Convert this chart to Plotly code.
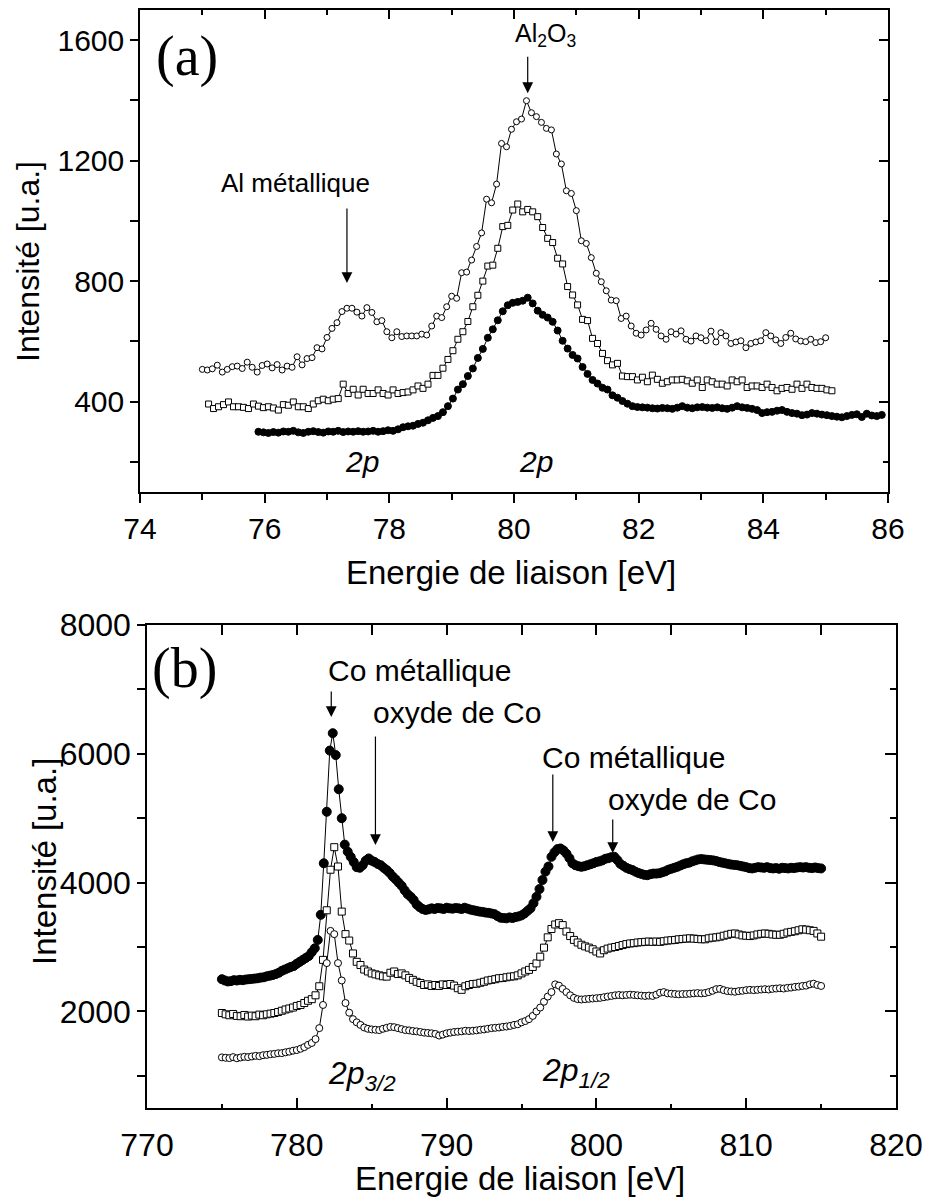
import numpy as np
import plotly.graph_objects as go

# ---------------- (a) Al 2p ----------------
a_step = 0.08
a_circ_x0 = 75.0
a_circ_y = [507, 505, 509, 521, 498, 507, 516, 518, 510, 531,
            514, 498, 520, 525, 512, 523, 505, 518, 514, 549,
            522, 543, 546, 579, 575, 613, 643, 662, 699, 710,
            710, 697, 684, 712, 696, 665, 669, 632, 612, 632,
            616, 618, 618, 618, 624, 621, 651, 684, 679, 715,
            750, 743, 828, 830, 870, 915, 960, 1072, 1060, 1122,
            1257, 1246, 1304, 1329, 1338, 1399, 1359, 1346, 1327, 1307,
            1302, 1222, 1189, 1100, 1091, 1034, 934, 925, 878, 826,
            798, 768, 737, 735, 676, 684, 651, 627, 621, 638,
            660, 640, 618, 607, 632, 624, 635, 607, 601, 618,
            612, 602, 634, 598, 629, 618, 593, 598, 602, 579,
            593, 598, 602, 629, 618, 605, 593, 613, 627, 608,
            601, 599, 607, 596, 599, 612]

a_sq_x0 = 75.1
a_sq_y = [392, 377, 383, 390, 399, 383, 383, 381, 377, 392,
          385, 380, 383, 379, 372, 390, 388, 399, 383, 383,
          377, 392, 403, 408, 403, 408, 410, 458, 427, 441,
          422, 441, 427, 427, 439, 427, 422, 439, 427, 430,
          432, 439, 452, 444, 458, 487, 487, 511, 540, 569,
          607, 632, 666, 715, 753, 800, 850, 853, 909, 981,
          985, 1036, 1056, 1030, 1038, 1030, 1014, 978, 942, 928,
          876, 857, 782, 754, 721, 673, 669, 610, 593, 560,
          536, 522, 527, 485, 483, 483, 472, 481, 466, 488,
          474, 461, 466, 472, 472, 474, 469, 461, 472, 447,
          472, 466, 458, 458, 452, 472, 466, 472, 447, 452,
          452, 447, 458, 447, 436, 444, 447, 441, 458, 444,
          458, 447, 444, 444, 439, 436]

a_dot_x0 = 75.9
a_dot_y = [300, 298, 296, 299, 297, 301, 300, 303, 298, 296,
           300, 302, 299, 297, 301, 300, 303, 299, 301, 300,
           302, 300, 301, 303, 300, 302, 305, 303,
           308, 315, 318, 320, 326, 330, 338, 346, 352, 365,
           385, 410, 440, 458, 485, 510, 545, 575, 612, 640,
           670, 700, 720, 728, 731, 735, 745, 726, 702, 688,
           679, 665, 636, 602, 576, 555, 543, 515, 492, 472,
           460, 446, 440, 421, 413, 402, 393, 385, 382, 381,
           380, 378, 377, 379, 378, 376, 380, 385, 380, 378,
           381, 382, 380, 379, 381, 378, 376, 380, 385, 381,
           379, 376, 372, 362, 365, 366, 370, 372, 366, 362,
           360, 355, 357, 362, 360, 357, 355, 352, 350, 348,
           352, 356, 358, 349, 360, 354, 352, 356]

# ---------------- (b) Co 2p ----------------
b_dot_x0, b_dot_step = 775.0, 0.2
b_dot_y = [2500, 2480, 2465, 2470, 2485, 2480, 2490, 2485, 2495, 2500,
           2505, 2510, 2515, 2525, 2530, 2545, 2555, 2565, 2580, 2600,
           2630, 2650, 2670, 2690, 2705, 2740, 2770, 2800, 2830, 2860,
           2920, 2980, 3110, 3500, 4300, 5100, 6050, 6320, 5980, 5450,
           5000, 4590, 4480, 4400, 4320, 4240, 4230, 4270, 4340, 4375,
           4340, 4320, 4290, 4270, 4230, 4195, 4150, 4095, 4050, 4000,
           3950, 3880, 3820, 3780, 3730, 3660, 3620, 3590, 3575, 3585,
           3600, 3590, 3605, 3600, 3590, 3610, 3600, 3595, 3605, 3600,
           3590, 3610, 3595, 3580, 3570, 3560, 3550, 3545, 3535, 3530,
           3520, 3510, 3480, 3455, 3450, 3445, 3460, 3450, 3465, 3475,
           3490, 3520, 3560, 3600, 3680, 3780, 3900, 4040, 4170, 4250,
           4400, 4470, 4520, 4530, 4500, 4450, 4380, 4300, 4270, 4255,
           4245, 4255, 4270, 4285, 4300, 4320, 4330, 4345, 4370, 4380,
           4395, 4400, 4350, 4290, 4260, 4230, 4210, 4195, 4170, 4150,
           4135, 4120, 4115, 4130, 4140, 4140, 4145, 4160, 4175, 4200,
           4215, 4230, 4245, 4265, 4285, 4300, 4310, 4330, 4345, 4360,
           4365, 4360, 4355, 4350, 4345, 4335, 4320, 4310, 4300, 4290,
           4280, 4275, 4270, 4260, 4250, 4240, 4225, 4220, 4230, 4240,
           4235, 4230, 4240, 4225, 4220, 4225, 4215, 4230, 4225, 4220,
           4230, 4225, 4235, 4240, 4235, 4240, 4230, 4225, 4235, 4225,
           4220]

b_sq_x0, b_sq_step = 775.0, 0.25
b_sq_y = [1975, 1955, 1940, 1960, 1930, 1925, 1945, 1920, 1935, 1925,
          1950, 1940, 1955, 1965, 1975, 1990, 2010, 2030, 2045, 2060,
          2085, 2100, 2130, 2165, 2190, 2250, 2390, 2800, 3570, 4200,
          4550, 4250, 3550, 3200, 3100, 2900, 2770, 2720, 2650, 2620,
          2590, 2575, 2560, 2545, 2540, 2600, 2620, 2580, 2590, 2560,
          2520, 2490, 2460, 2440, 2410, 2420, 2395, 2410, 2395, 2420,
          2410, 2425, 2400, 2360, 2335, 2390, 2410, 2425, 2430, 2445,
          2460, 2480, 2490, 2500, 2515, 2520, 2530, 2540, 2545, 2560,
          2590, 2620, 2645, 2690, 2745, 2850, 2990, 3150, 3280, 3350,
          3370, 3340, 3240, 3170, 3110, 3070, 3035, 3010, 2990, 2965,
          2930, 2900, 2950, 2975, 2990, 3000, 3015, 3030, 3045, 3055,
          3060, 3070, 3075, 3080, 3085, 3080, 3085, 3080, 3090, 3100,
          3105, 3110, 3120, 3125, 3130, 3135, 3130, 3125, 3120, 3120,
          3135, 3145, 3150, 3160, 3175, 3190, 3205, 3210, 3195, 3180,
          3175, 3170, 3180, 3195, 3205, 3210, 3205, 3195, 3190, 3190,
          3205, 3225, 3235, 3245, 3260, 3275, 3270, 3260, 3250, 3210,
          3160]

b_circ_x0, b_circ_step = 775.0, 0.25
b_circ_y = [1286, 1280, 1275, 1290, 1272, 1285, 1295, 1290, 1300, 1310,
            1305, 1320, 1325, 1335, 1340, 1350, 1352, 1365, 1375, 1390,
            1400, 1420, 1445, 1480, 1510, 1570, 1740, 2100, 2750, 3250,
            3200, 2750, 2480, 2130, 1980, 1880, 1830, 1790, 1750, 1730,
            1720, 1715, 1710, 1730, 1745, 1760, 1755, 1740, 1725, 1710,
            1705, 1695, 1690, 1680, 1670, 1665, 1660, 1650, 1625, 1640,
            1660, 1670, 1680, 1685, 1690, 1700, 1695, 1700, 1705, 1715,
            1720, 1730, 1740, 1745, 1750, 1760, 1765, 1775, 1790, 1800,
            1830, 1850, 1880, 1930, 2000, 2060, 2150, 2230, 2300, 2420,
            2400, 2350, 2300, 2250, 2210, 2190, 2185, 2190, 2195, 2200,
            2205, 2210, 2220, 2230, 2240, 2250, 2255, 2250, 2255, 2260,
            2255, 2250, 2245, 2240, 2245, 2240, 2260, 2290, 2300, 2280,
            2275, 2270, 2265, 2270, 2270, 2275, 2280, 2285, 2280, 2285,
            2300, 2320, 2345, 2350, 2330, 2315, 2310, 2305, 2315, 2320,
            2330, 2335, 2330, 2335, 2340, 2345, 2340, 2350, 2355, 2360,
            2355, 2365, 2370, 2380, 2385, 2395, 2400, 2420, 2430, 2410,
            2395]


def energies(x0, step, n):
    return np.round(x0 + step * np.arange(n), 3)


SANS = 'Liberation Sans, Arial, sans-serif'
SERIF = 'Liberation Serif, Times New Roman, serif'
# the page body adds an 8 px margin, so the figure is 8 px smaller than the window
OFF = 8
W, H = 931 - OFF, 1201 - OFF
ML, MR, MT, MB = 132, 35, 2, 93


def px_x(px):
    return (px - OFF - ML) / (W - ML - MR)


def px_y(py):
    return (H - MB - (py - OFF)) / (H - MT - MB)


fig = go.Figure()


def serie(x0, step, y, symbol, size, fill, xa, ya):
    fig.add_trace(go.Scatter(
        x=energies(x0, step, len(y)), y=y, mode='lines+markers',
        line=dict(color='black', width=1),
        marker=dict(symbol=symbol, size=size, color=fill,
                    line=dict(color='black', width=1)),
        xaxis=xa, yaxis=ya, showlegend=False, hoverinfo='skip'))


# (a)
serie(a_dot_x0, a_step, a_dot_y, 'circle', 7, 'black', 'x', 'y')
serie(a_sq_x0, a_step, a_sq_y, 'square', 6, 'white', 'x', 'y')
serie(a_circ_x0, a_step, a_circ_y, 'circle', 6, 'white', 'x', 'y')
# (b)
serie(b_dot_x0, b_dot_step, b_dot_y, 'circle', 9, 'black', 'x2', 'y2')
serie(b_sq_x0, b_sq_step, b_sq_y, 'square', 7, 'white', 'x2', 'y2')
serie(b_circ_x0, b_circ_step, b_circ_y, 'circle', 7, 'white', 'x2', 'y2')

# empty traces so the mirrored (top / right) axes with inside ticks get drawn
for xa, ya in [('x3', 'y'), ('x', 'y3'), ('x4', 'y2'), ('x2', 'y4')]:
    fig.add_trace(go.Scatter(x=[], y=[], xaxis=xa, yaxis=ya, showlegend=False,
                             hoverinfo='skip'))


def axe(**kw):
    d = dict(showline=True, linecolor='black', linewidth=1.5, showgrid=False,
             zeroline=False, tickcolor='black', tickwidth=1.5, automargin=False,
             tickfont=dict(family=SANS, size=30, color='black'))
    d.update(kw)
    return d


def mino(dtick, ticks, ticklen):
    return dict(dtick=dtick, ticks=ticks, ticklen=ticklen, tickwidth=1.5,
                tickcolor='black', showgrid=False)


fig.update_layout(
    width=W, height=H,
    margin=dict(l=ML, r=MR, t=MT, b=MB, autoexpand=False),
    paper_bgcolor='white', plot_bgcolor='white',
    font=dict(family=SANS, color='black'),
    xaxis=axe(domain=[0, px_x(888)], anchor='y', range=[74, 86], tick0=74, dtick=2,
              ticks='outside', ticklen=9, minor=mino(1, 'outside', 6)),
    xaxis3=axe(overlaying='x', side='top', anchor='y', range=[74, 86], tick0=74, dtick=2,
               ticks='inside', ticklen=9, showticklabels=False, minor=mino(1, 'inside', 5)),
    yaxis=axe(domain=[px_y(492), 1], anchor='x', range=[100, 1700], tick0=0, dtick=400,
              ticks='outside', ticklen=8, minor=mino(200, 'outside', 8)),
    yaxis3=axe(overlaying='y', side='right', anchor='x', range=[100, 1700], tick0=0, dtick=400,
               ticks='inside', ticklen=9, showticklabels=False, minor=mino(200, 'inside', 5)),
    xaxis2=axe(domain=[px_x(147), 1], anchor='y2', range=[770, 820], tick0=770, dtick=10,
               ticks='inside', ticklen=10, minor=mino(5, 'inside', 4),
               ticklabelstandoff=8, tickfont=dict(family=SANS, size=32, color='black')),
    xaxis4=axe(overlaying='x2', side='top', anchor='y2', range=[770, 820], tick0=770, dtick=10,
               ticks='inside', ticklen=10, showticklabels=False, minor=mino(5, 'inside', 10)),
    yaxis2=axe(domain=[0, px_y(625)], anchor='x2', range=[500, 8000], tick0=0, dtick=2000,
               ticks='outside', ticklen=8, minor=mino(1000, 'outside', 8),
               tickfont=dict(family=SANS, size=32, color='black')),
    yaxis4=axe(overlaying='y2', side='right', anchor='x2', range=[500, 8000], tick0=0, dtick=2000,
               ticks='inside', ticklen=11, showticklabels=False, minor=mino(1000, 'inside', 6)),
)

ann = []


def texte(x, y, s, size, xref='paper', yref='paper', family=SANS, angle=0):
    ann.append(dict(x=x, y=y, xref=xref, yref=yref, text=s, showarrow=False,
                    font=dict(family=family, size=size, color='black'),
                    xanchor='center', yanchor='middle', textangle=angle))


def fleche(x, y_tail, y_tip, xa, ya):
    ann.append(dict(x=x, y=y_tip, ax=x, ay=y_tail, xref=xa, yref=ya, axref=xa, ayref=ya,
                    text='', showarrow=True, arrowhead=2, arrowsize=1.8,
                    arrowwidth=1.2, arrowcolor='black'))


# axis titles
texte(px_x(511), px_y(572), 'Energie de liaison [eV]', 33)
texte(px_x(520), px_y(1178), 'Energie de liaison [eV]', 33)
texte(px_x(28), px_y(262), 'Intensité [u.a.]', 32, angle=-90)
texte(px_x(44), px_y(862), 'Intensité [u.a.]', 33, angle=-90)

# panel labels
texte(px_x(187), px_y(57), '(a)', 56, family=SERIF)
texte(px_x(184), px_y(668), '(b)', 56, family=SERIF)

# (a) annotations
texte(80.5, 1617, 'Al<sub>2</sub>O<sub>3</sub>', 25, 'x', 'y')
fleche(80.22, 1550, 1424, 'x', 'y')
texte(76.5, 1126, 'Al métallique', 26, 'x', 'y')
fleche(77.32, 1046, 794, 'x', 'y')
texte(77.56, 200, '<i>2p</i>', 30, 'x', 'y')
texte(80.35, 200, '<i>2p</i>', 30, 'x', 'y')

# (b) annotations
texte(788.2, 7301, 'Co métallique', 30, 'x2', 'y2')
fleche(782.3, 6991, 6571, 'x2', 'y2')
texte(790.67, 6649, 'oxyde de Co', 30, 'x2', 'y2')
fleche(785.25, 6292, 4584, 'x2', 'y2')
texte(802.47, 5935, 'Co métallique', 30, 'x2', 'y2')
fleche(797.09, 5702, 4630, 'x2', 'y2')
texte(806.4, 5298, 'oxyde de Co', 30, 'x2', 'y2')
fleche(801.09, 5003, 4460, 'x2', 'y2')
texte(784.33, 997, '<i>2p<sub>3/2</sub></i>', 32, 'x2', 'y2')
texte(798.67, 1059, '<i>2p<sub>1/2</sub></i>', 32, 'x2', 'y2')

fig.update_layout(annotations=ann)

fig.write_html("out.html")
